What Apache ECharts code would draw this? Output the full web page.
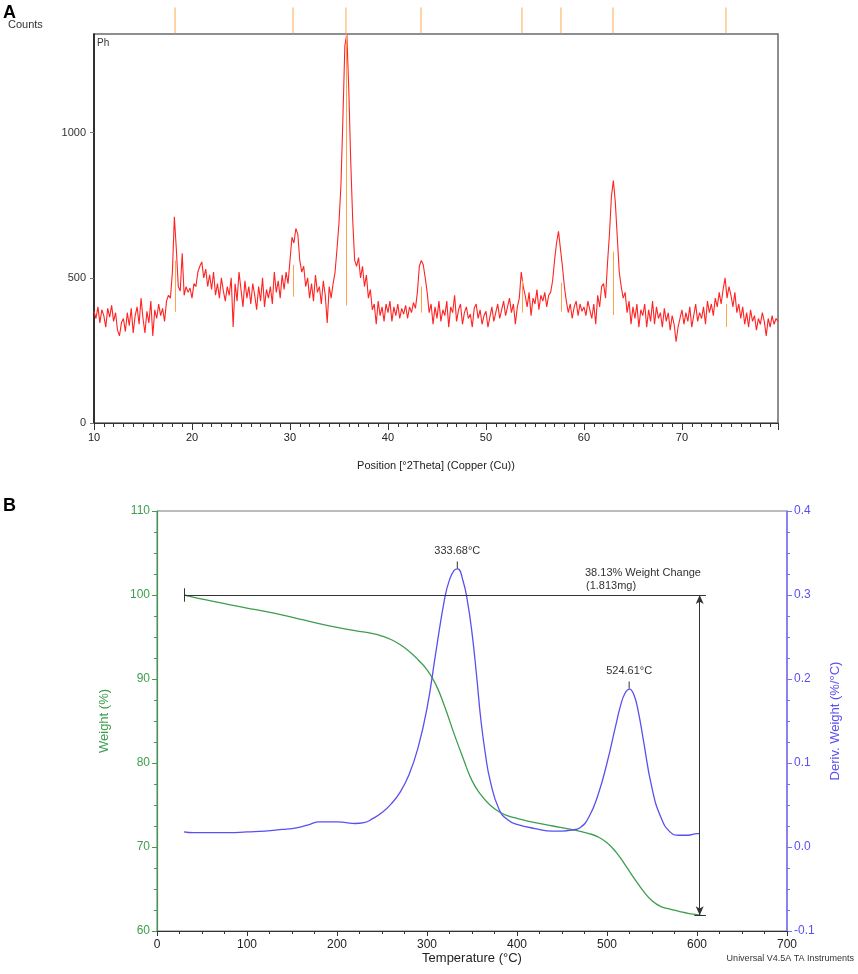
<!DOCTYPE html>
<html>
<head>
<meta charset="utf-8">
<title>XRD / TGA</title>
<script src="https://cdn.jsdelivr.net/npm/echarts/dist/echarts.min.js"></script>
<style>
html, body { margin: 0; padding: 0; background: #fff; }
#main { width: 858px; height: 974px; }
</style>
</head>
<body>
<div id="main"></div>
<script>
// ---- A: XRD pattern, 10 - 79.8 deg, step 0.2
var xrdStart = 10;
var xrdStep = 0.2;
var xrdCounts = [
	385, 360, 400, 345, 390, 370, 330, 395, 365, 405,
	350, 380, 320, 300, 345, 360, 315, 380, 335, 395,
	310, 370, 400, 340, 430, 360, 310, 385, 345, 420,
	300, 390, 360, 410, 370, 395, 350, 420, 440, 430,
	520, 710, 600, 470, 455, 585, 440, 470, 450, 465,
	430, 480, 470, 520, 540, 555, 500, 530, 470, 510,
	460, 520, 440, 480, 430, 500, 455, 420, 470, 440,
	500, 331, 480, 420, 520, 460, 400, 490, 430, 470,
	410, 480, 440, 390, 470, 420, 500, 400, 460, 430,
	470, 410, 520, 450, 490, 430, 510, 460, 520, 480,
	560, 640, 620, 670, 650, 560, 520, 540, 470, 500,
	430, 480, 420, 510, 450, 470, 410, 490, 440, 345,
	470, 430, 480, 520, 600, 690, 820, 1050, 1300, 1340,
	1150, 900, 700, 560, 540, 570, 500, 540, 470, 510,
	430, 460, 390, 410, 340, 420, 370, 400, 350, 410,
	380, 420, 350, 400, 370, 410, 360, 395, 375, 405,
	360, 400, 380, 415, 395, 450, 540, 560, 545, 500,
	450, 380, 410, 340, 400, 360, 420, 350, 390, 370,
	420, 330, 400, 380, 440, 350, 390, 410, 340, 380,
	400, 360, 375, 330, 395, 410, 360, 390, 340, 370,
	385, 330, 365, 400, 350, 380, 410, 360, 390, 420,
	370, 400, 430, 380, 410, 340, 400, 430, 520, 470,
	440, 400, 450, 370, 430, 410, 460, 390, 440, 420,
	450, 400, 440, 450, 490, 560, 620, 660, 600, 540,
	470, 420, 380, 410, 360, 400, 420, 370, 410, 385,
	400, 370, 420, 390, 360, 410, 340, 440, 400, 470,
	480, 430, 550, 650, 780, 835, 760, 640, 520, 470,
	430, 450, 380, 420, 340, 400, 360, 410, 330, 390,
	370, 410, 330, 390, 350, 420, 340, 400, 360, 380,
	330, 395, 350, 380, 320, 370, 340, 280, 330, 360,
	390, 340, 380, 350, 400, 330, 370, 410, 350, 380,
	360, 400, 340, 420, 380, 410, 370, 430, 400, 450,
	410, 460, 500, 430, 470, 440, 400, 450, 380, 410,
	360, 400, 340, 380, 330, 390, 350, 370, 320, 360,
	340, 380, 350, 300, 360, 330, 370, 340, 360, 350
];
// reference sticks (position, foot, head in counts)
var refPos  = [18.27, 30.31, 35.71, 43.37, 53.67, 57.65, 62.96, 74.49];
var refBase = [383, 435, 405, 380, 380, 383, 372, 331];
var refTop  = [560, 545, 1340, 470, 490, 483, 590, 410];

// ---- B: TGA
var tempW  = [30, 40, 60, 80, 100, 120, 140, 160, 180, 200, 220, 240, 250, 260, 270, 280, 290, 300, 310, 320,
	330, 340, 350, 360, 370, 380, 390, 400, 420, 440, 460, 480, 490, 500, 510, 520, 530, 540, 550, 560,
	570, 580, 590, 600, 605];
var weight = [100, 99.75, 99.3, 98.85, 98.45, 98.05, 97.6, 97.1, 96.6, 96.15, 95.75, 95.4, 95.1, 94.7, 94.1, 93.3, 92.3, 91.1, 89.3, 86.6,
	83.5, 80.6, 77.9, 76.2, 75.0, 74.2, 73.7, 73.4, 72.9, 72.5, 72.1, 71.6, 71.2, 70.5, 69.4, 67.9, 66.3, 64.8, 63.6, 62.9,
	62.6, 62.35, 62.1, 61.95, 61.87];
var tempD  = [30, 40, 60, 80, 100, 120, 140, 150, 160, 170, 180, 190, 200, 210, 220, 230, 240, 250, 260, 270,
	280, 290, 300, 310, 320, 325, 330, 334, 340, 345, 350, 355, 360, 365, 370, 380, 390, 400, 420, 440,
	450, 460, 470, 480, 490, 500, 510, 515, 520, 525, 530, 535, 540, 550, 560, 570, 580, 590, 600, 603];
var deriv  = [0.018, 0.017, 0.017, 0.017, 0.018, 0.019, 0.021, 0.022, 0.024, 0.027, 0.030, 0.030, 0.030, 0.029, 0.028, 0.029, 0.034, 0.041, 0.051, 0.065,
	0.086, 0.118, 0.165, 0.233, 0.298, 0.318, 0.329, 0.331, 0.317, 0.292, 0.255, 0.205, 0.150, 0.110, 0.080, 0.045, 0.032, 0.027, 0.022, 0.019,
	0.019, 0.020, 0.023, 0.036, 0.062, 0.100, 0.146, 0.168, 0.183, 0.188, 0.181, 0.160, 0.130, 0.070, 0.035, 0.018, 0.014, 0.014, 0.016, 0.016];
var peaks = [[333.68, 0.331], [524.61, 0.188]];
var wcStartT = 30;
var wcEndT = 610;
var wcArrowT = 603;
var wcFrom = 100;
var wcTo = 61.87;

var font = "'Liberation Sans', Arial, sans-serif";
var cRed = '#ff2323';
var cOrange = '#ffa44a';
var cGreen = '#3e9d4e';
var cBlue = '#5a4ff0';
var cText = '#222';

var chart = {
	init : function(){
		var el = document.getElementById('main');
		this.ec = echarts.init(el, null, {renderer: 'canvas'});
		this.ec.setOption(this.option());
	},
	xrdData : function(){
		var out = [];
		for(var i = 0; i < xrdCounts.length; i++){
			out.push([+(xrdStart + i * xrdStep).toFixed(2), xrdCounts[i]]);
		}
		return out;
	},
	stickLines : function(){
		var out = [];
		for(var i = 0; i < refPos.length; i++){
			out.push([{coord: [refPos[i], refBase[i]]}, {coord: [refPos[i], refTop[i]]}]);
		}
		return out;
	},
	pairs : function(xs, ys){
		var out = [];
		for(var i = 0; i < xs.length; i++){
			out.push([xs[i], ys[i]]);
		}
		return out;
	},
	option : function(){
		var xrdMax = +(xrdStart + (xrdCounts.length - 1) * xrdStep).toFixed(2);
		return {
			animation: false,
			textStyle: {fontFamily: font},
			grid: [
				{left: 94, right: 80, top: 34, height: 389, show: true, borderColor: '#6a6a6a', borderWidth: 1.5, backgroundColor: 'transparent'},
				{left: 94, right: 80, top: 8, height: 25},
				{left: 157, right: 71, top: 511, height: 420, show: true, borderColor: '#7a7a7a', borderWidth: 1, backgroundColor: 'transparent'}
			],
			xAxis: [
				{
					gridIndex: 0, type: 'value', min: xrdStart, max: xrdMax, interval: 10,
					name: 'Position [°2Theta] (Copper (Cu))', nameLocation: 'middle', nameGap: 37,
					nameTextStyle: {fontSize: 11, color: cText},
					axisLine: {onZero: false, lineStyle: {color: '#333', width: 1.2}},
					axisTick: {length: 7, lineStyle: {color: '#333'}},
					minorTick: {show: true, splitNumber: 10, length: 4, lineStyle: {color: '#333'}},
					axisLabel: {fontSize: 11, color: cText, margin: 9, showMaxLabel: false},
					splitLine: {show: false}
				},
				{
					gridIndex: 1, type: 'value', min: xrdStart, max: xrdMax, show: false
				},
				{
					gridIndex: 2, type: 'value', min: 0, max: 700, interval: 100,
					name: 'Temperature (°C)', nameLocation: 'middle', nameGap: 20,
					nameTextStyle: {fontSize: 13, color: cText},
					axisLine: {onZero: false, lineStyle: {color: '#333', width: 1}},
					axisTick: {length: 5, lineStyle: {color: '#333'}},
					minorTick: {show: true, splitNumber: 4, length: 3, lineStyle: {color: '#333'}},
					axisLabel: {fontSize: 12, color: cText, margin: 8},
					splitLine: {show: false}
				}
			],
			yAxis: [
				{
					gridIndex: 0, type: 'value', min: 0, max: 1340, interval: 500,
					axisLine: {show: true, lineStyle: {color: '#111', width: 1.5}},
					axisTick: {show: true, length: 4, lineStyle: {color: '#777'}},
					axisLabel: {fontSize: 11, color: '#333', margin: 8, showMaxLabel: false,
						formatter: function(v){ return String(v); }},
					splitLine: {show: false}
				},
				{
					gridIndex: 1, type: 'value', min: 0, max: 1, show: false
				},
				{
					gridIndex: 2, type: 'value', position: 'left', min: 60, max: 110, interval: 10,
					name: 'Weight (%)', nameLocation: 'middle', nameGap: 46, nameRotate: 90,
					nameTextStyle: {fontSize: 13, color: cGreen},
					axisLine: {show: true, lineStyle: {color: cGreen, width: 1.2}},
					axisTick: {show: true, length: 5, lineStyle: {color: cGreen}},
					minorTick: {show: true, splitNumber: 4, length: 3, lineStyle: {color: cGreen}},
					axisLabel: {fontSize: 12, color: cGreen, margin: 7},
					splitLine: {show: false}
				},
				{
					gridIndex: 2, type: 'value', position: 'right', min: -0.1, max: 0.4, interval: 0.1,
					name: 'Deriv. Weight (%/°C)', nameLocation: 'middle', nameGap: 42, nameRotate: 90,
					nameTextStyle: {fontSize: 13, color: cBlue},
					axisLine: {show: true, lineStyle: {color: '#7a6fff', width: 1.5}},
					axisTick: {show: true, length: 5, lineStyle: {color: '#7a6fff'}},
					minorTick: {show: true, splitNumber: 4, length: 3, lineStyle: {color: '#7a6fff'}},
					axisLabel: {fontSize: 12, color: cBlue, margin: 7, formatter: function(v){ return v.toFixed(1); }},
					splitLine: {show: false}
				}
			],
			series: [
				{
					name: 'XRD', type: 'line', xAxisIndex: 0, yAxisIndex: 0,
					data: this.xrdData(), showSymbol: false, symbol: 'none',
					lineStyle: {color: cRed, width: 1.1}, clip: true,
					markLine: {
						silent: true, symbol: ['none', 'none'], label: {show: false},
						lineStyle: {color: cOrange, width: 1, type: 'solid'},
						data: this.stickLines()
					}
				},
				{
					name: 'ref', type: 'scatter', xAxisIndex: 1, yAxisIndex: 1,
					data: refPos.map(function(p){ return [p, 0.5]; }),
					symbol: 'rect', symbolSize: [1.2, 26], silent: true,
					itemStyle: {color: cOrange}
				},
				{
					name: 'Weight', type: 'line', xAxisIndex: 2, yAxisIndex: 2,
					data: this.pairs(tempW, weight), showSymbol: false, symbol: 'none',
					smooth: true,
					lineStyle: {color: cGreen, width: 1.3},
					markLine: {
						silent: true, symbol: ['none', 'none'], label: {show: false},
						lineStyle: {color: '#333', width: 1, type: 'solid'},
						data: [
							[{coord: [wcStartT, wcFrom]}, {coord: [wcEndT, wcFrom]}],
							[{coord: [wcStartT, wcFrom + 0.8]}, {coord: [wcStartT, wcFrom - 0.8]}],
							[{coord: [wcArrowT - 6, wcTo]}, {coord: [wcEndT, wcTo]}],
							[{coord: [wcArrowT, wcFrom], symbol: 'arrow', symbolSize: [6, 9]},
							 {coord: [wcArrowT, wcTo], symbol: 'arrow', symbolSize: [6, 9]}]
						]
					}
				},
				{
					name: 'Deriv', type: 'line', xAxisIndex: 2, yAxisIndex: 3,
					data: this.pairs(tempD, deriv), showSymbol: false, symbol: 'none',
					smooth: true,
					lineStyle: {color: cBlue, width: 1.3},
					markPoint: {
						silent: true,
						symbol: 'rect', symbolSize: [1, 7], symbolOffset: [0, -4],
						itemStyle: {color: '#333'},
						label: {
							show: true, position: 'top', distance: 5,
							fontSize: 11, color: '#333',
							formatter: function(p){ return p.data.coord[0].toFixed(2) + '°C'; }
						},
						data: peaks.map(function(p){ return {coord: p}; })
					}
				}
			],
			graphic: [
				{type: 'text', left: 3, top: 4, style: {text: 'A', font: 'bold 18px ' + font, fill: '#000'}},
				{type: 'text', left: 8, top: 19, style: {text: 'Counts', font: '11px ' + font, fill: '#333'}},
				{type: 'text', left: 97, top: 38, style: {text: 'Ph', font: '10px ' + font, fill: '#333'}},
				{type: 'text', left: 3, top: 497, style: {text: 'B', font: 'bold 18px ' + font, fill: '#000'}},
				{type: 'text', left: 585, top: 567, style: {text: '38.13% Weight Change', font: '11px ' + font, fill: '#333'}},
				{type: 'text', left: 586, top: 580, style: {text: '(1.813mg)', font: '11px ' + font, fill: '#333'}},
				{type: 'text', right: 4, top: 954, style: {text: 'Universal V4.5A TA Instruments', font: '9px ' + font, fill: '#333'}}
			]
		};
	}
};

chart.init();
</script>
</body>
</html>
